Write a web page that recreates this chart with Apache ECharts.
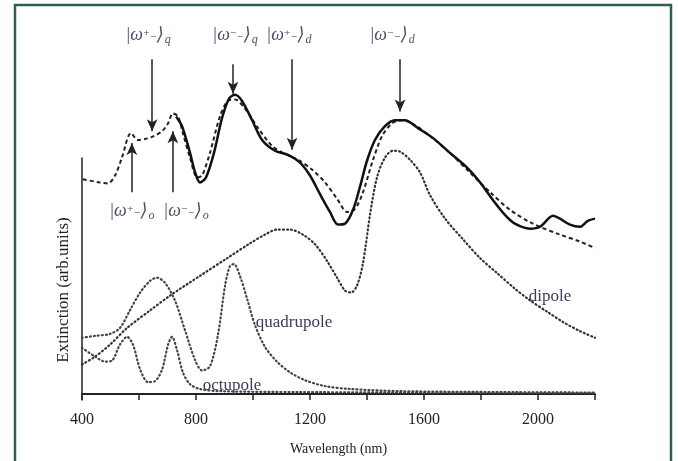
<!DOCTYPE html>
<html>
<head>
<meta charset="utf-8">
<script src="https://cdn.jsdelivr.net/npm/echarts@6/dist/echarts.min.js"></script>
<style>
html, body { margin: 0; padding: 0; background: #fff; }
#main { width: 678px; height: 461px; }
</style>
</head>
<body>
<div id="main"></div>
<script>
// measured spectrum (solid line)
var measWl  = [730, 751, 779, 797, 814, 835, 863, 891, 916, 937, 961, 997, 1032, 1077, 1123, 1165, 1200, 1235, 1270, 1298, 1323, 1351, 1375, 1400, 1428, 1463, 1498, 1533, 1579, 1632, 1691, 1751, 1797, 1842, 1884, 1919, 1972, 2007, 2053, 2077, 2112, 2147, 2175, 2200];
var measVal = [11.65, 11.24, 10.12, 9.30, 8.88, 9.09, 10.12, 11.57, 12.40, 12.56, 12.31, 11.49, 10.66, 10.21, 10.04, 9.71, 9.17, 8.39, 7.64, 7.11, 7.15, 7.73, 8.68, 9.79, 10.66, 11.24, 11.49, 11.49, 11.16, 10.74, 10.12, 9.50, 8.88, 8.14, 7.52, 7.15, 6.94, 7.02, 7.48, 7.36, 7.11, 7.02, 7.27, 7.36];

// simulated total (dashed line)
var totalWl  = [403, 463, 491, 516, 540, 572, 596, 621, 646, 681, 702, 719, 737, 754, 779, 804, 821, 849, 884, 912, 937, 972, 1018, 1067, 1112, 1158, 1207, 1253, 1298, 1330, 1358, 1386, 1418, 1453, 1488, 1523, 1568, 1621, 1691, 1761, 1832, 1902, 1982, 2077, 2147, 2200];
var totalVal = [9.01, 8.88, 8.84, 9.17, 9.92, 10.95, 10.66, 10.70, 10.79, 11.03, 11.36, 11.78, 11.65, 10.95, 9.92, 9.09, 9.17, 10.12, 11.65, 12.31, 12.36, 11.98, 11.16, 10.41, 10.08, 9.83, 9.42, 8.88, 8.14, 7.64, 7.77, 8.47, 9.71, 10.83, 11.36, 11.49, 11.28, 10.83, 10.12, 9.30, 8.47, 7.73, 7.15, 6.69, 6.40, 6.12];

// dipole
var dipoleWl  = [400, 446, 498, 558, 639, 709, 814, 909, 989, 1042, 1084, 1130, 1175, 1218, 1260, 1295, 1323, 1344, 1365, 1386, 1411, 1435, 1463, 1491, 1516, 1551, 1586, 1621, 1674, 1737, 1797, 1856, 1919, 1972, 2035, 2088, 2147, 2200];
var dipoleVal = [1.24, 1.57, 2.07, 2.77, 3.51, 4.13, 4.96, 5.70, 6.32, 6.69, 6.90, 6.90, 6.69, 6.28, 5.58, 4.88, 4.34, 4.26, 4.55, 5.50, 7.56, 9.09, 9.92, 10.21, 10.17, 9.83, 9.30, 8.35, 7.36, 6.49, 5.70, 5.08, 4.42, 3.93, 3.43, 3.02, 2.64, 2.36];

// quadrupole
var quadWl  = [400, 446, 498, 533, 568, 604, 639, 663, 691, 726, 761, 796, 821, 849, 877, 902, 919, 933, 954, 979, 1007, 1042, 1084, 1130, 1182, 1253, 1340, 1516, 1867, 2200];
var quadVal = [2.36, 2.44, 2.52, 2.77, 3.51, 4.26, 4.75, 4.88, 4.67, 3.93, 2.69, 1.45, 0.99, 1.16, 2.48, 4.55, 5.37, 5.45, 4.96, 4.01, 2.89, 1.98, 1.36, 0.91, 0.58, 0.33, 0.21, 0.12, 0.08, 0.06];

// octupole
var octWl  = [400, 446, 481, 505, 533, 558, 579, 604, 632, 656, 681, 702, 716, 733, 754, 779, 814, 884, 1165, 2200];
var octVal = [1.94, 1.57, 1.36, 1.40, 2.07, 2.40, 2.07, 1.03, 0.50, 0.54, 1.03, 2.07, 2.40, 1.86, 0.91, 0.41, 0.21, 0.12, 0.08, 0.04];

// x tick labels
var xLabels = [400, 800, 1200, 1600, 2000];

// mode arrows
var arrowWl   = [646, 930, 1137, 1516, 575, 719];
var arrowFrom = [14.05, 13.84, 14.05, 14.05, 8.47, 8.47];
var arrowTo   = [11.03, 12.60, 10.25, 11.86, 10.54, 11.03];
var noteWl    = [632, 937, 1126, 1488, 575, 765];
var noteVal   = [15.04, 15.04, 15.04, 15.04, 7.65, 7.65];
var noteSign  = ['+', '-', '+', '-', '+', '-'];
var noteSub   = ['q', 'q', 'd', 'd', 'o', 'o'];

function pairs(xs, ys) {
    var arr = [];
    for (var i = 0; i < xs.length; i++) arr.push([xs[i], ys[i]]);
    return arr;
}

var serif = '"Liberation Serif", "DejaVu Serif", serif';

var arrowLines = [];
for (var i = 0; i < arrowWl.length; i++) {
    arrowLines.push([{ coord: [arrowWl[i], arrowFrom[i]] }, { coord: [arrowWl[i], arrowTo[i]] }]);
}

var notePoints = [];
for (var j = 0; j < noteWl.length; j++) {
    var sup = noteSign[j] == '+' ? '\u207A' : '\u207B';
    notePoints.push({
        coord: [noteWl[j], noteVal[j]],
        label: { formatter: '{a||\u03C9}{s|' + sup + '\u208B}{a|\u27E9}{b|' + noteSub[j] + '}' }
    });
}

var noteRich = {
    a: { fontFamily: serif, fontStyle: 'italic', fontSize: 18, color: '#4b4f66' },
    s: { fontFamily: serif, fontSize: 13, color: '#4b4f66' },
    b: { fontFamily: serif, fontStyle: 'italic', fontSize: 12, color: '#4b4f66', padding: [9, 0, 0, 1] }
};

function curveNote(wl, val, text) {
    return {
        symbol: 'circle',
        symbolSize: 1,
        itemStyle: { color: 'rgba(0,0,0,0)' },
        label: { show: true, position: 'inside', formatter: text, fontFamily: serif, fontSize: 17, color: '#3b3d58' },
        data: [{ coord: [wl, val] }]
    };
}

var dotted = [1, 3];

var myChart = echarts.init(document.getElementById('main'));

option = {
    backgroundColor: '#fff',
    animation: false,
    graphic: [{
        type: 'rect',
        silent: true,
        shape: { x: 15, y: 5, width: 656, height: 480 },
        style: { fill: 'none', stroke: '#2d5f57', lineWidth: 2.5 }
    }],
    grid: [
        { left: 82, right: 83, top: 12.8, bottom: 61 },
        { left: 82, right: 83, top: 158, bottom: 61 }
    ],
    xAxis: [{
        type: 'value',
        gridIndex: 0,
        min: 400,
        max: 2200,
        interval: 200,
        name: 'Wavelength (nm)',
        nameLocation: 'middle',
        nameGap: 48,
        nameTextStyle: { fontFamily: serif, fontSize: 14, color: '#222' },
        axisLine: { lineStyle: { color: '#222', width: 2 } },
        axisTick: { length: 6, lineStyle: { color: '#222', width: 1.5 } },
        axisLabel: {
            margin: 18,
            fontFamily: serif,
            fontSize: 16,
            color: '#222',
            formatter: function (v) { return xLabels.indexOf(v) >= 0 ? String(v) : ''; }
        },
        splitLine: { show: false }
    }, {
        type: 'value',
        gridIndex: 1,
        min: 400,
        max: 2200,
        show: false
    }],
    yAxis: [{
        type: 'value',
        gridIndex: 0,
        min: 0,
        max: 16,
        show: false
    }, {
        type: 'value',
        gridIndex: 1,
        min: 0,
        max: 10,
        name: 'Extinction (arb.units)',
        nameLocation: 'middle',
        nameGap: 10,
        nameTextStyle: { fontFamily: serif, fontSize: 17, color: '#222', padding: [0, 22, 0, 0] },
        axisLine: { show: true, lineStyle: { color: '#222', width: 1.5 } },
        axisTick: { show: false },
        axisLabel: { show: false },
        splitLine: { show: false }
    }],
    series: [{
        name: 'dipole',
        type: 'line',
        showSymbol: false,
        smooth: 0.3,
        data: pairs(dipoleWl, dipoleVal),
        lineStyle: { color: '#333', width: 2.2, type: dotted, cap: 'round' },
        markPoint: curveNote(2042, 4.1, 'dipole')
    }, {
        name: 'quadrupole',
        type: 'line',
        showSymbol: false,
        smooth: 0.3,
        data: pairs(quadWl, quadVal),
        lineStyle: { color: '#444', width: 2.2, type: dotted, cap: 'round' },
        markPoint: curveNote(1144, 3.0, 'quadrupole')
    }, {
        name: 'octupole',
        type: 'line',
        showSymbol: false,
        smooth: 0.3,
        data: pairs(octWl, octVal),
        lineStyle: { color: '#444', width: 2.2, type: dotted, cap: 'round' },
        markPoint: curveNote(926, 0.35, 'octupole')
    }, {
        name: 'total',
        type: 'line',
        showSymbol: false,
        smooth: 0.3,
        data: pairs(totalWl, totalVal),
        lineStyle: { color: '#222', width: 2, type: [4, 3] }
    }, {
        name: 'measured',
        type: 'line',
        showSymbol: false,
        smooth: 0.3,
        data: pairs(measWl, measVal),
        lineStyle: { color: '#111', width: 2.5 },
        markLine: {
            silent: true,
            symbol: ['none', 'arrow'],
            symbolSize: [8, 12],
            label: { show: false },
            lineStyle: { color: '#222', width: 1.5, type: 'solid' },
            data: arrowLines
        },
        markPoint: {
            symbol: 'circle',
            symbolSize: 1,
            itemStyle: { color: 'rgba(0,0,0,0)' },
            label: { show: true, position: 'inside', rich: noteRich },
            data: notePoints
        }
    }]
};

myChart.setOption(option);
window.onresize = myChart.resize;
</script>
</body>
</html>
